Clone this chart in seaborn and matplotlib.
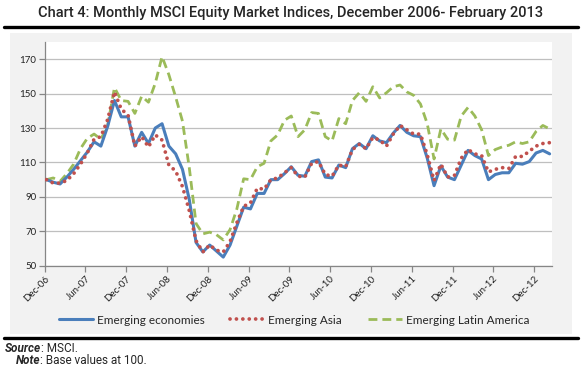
import numpy as np
import pandas as pd
import matplotlib
matplotlib.use('Agg')
import matplotlib.pyplot as plt
from matplotlib.lines import Line2D
from matplotlib.patches import Rectangle
import seaborn as sns

# Monthly index values, Dec-06 = 100
tick_labels = ['Dec-06', 'Jun-07', 'Dec-07', 'Jun-08', 'Dec-08', 'Jun-09', 'Dec-09',
               'Jun-10', 'Dec-10', 'Jun-11', 'Dec-11', 'Jun-12', 'Dec-12']
y_ticks = [50, 70, 90, 110, 130, 150, 170]

emerging_economies = [
    100, 98.5, 97.5, 101.5, 106, 111, 116, 122, 119.5, 131, 146, 136.5, 136.5,
    119.5, 127.5, 121, 130, 132.5, 119.5, 115, 106, 88.5, 63.5, 58, 62,
    58.5, 55, 62, 73, 84, 83, 92, 92, 100, 100, 103.5, 107.5,
    102.5, 102, 110.5, 111.5, 101.5, 101, 108.5, 107, 118, 121, 118, 125.5,
    122.5, 121.5, 127, 131.5, 127.5, 125.5, 125, 112.5, 96.5, 108, 101.5, 100,
    108.5, 117, 114, 112, 100, 103, 104, 104, 109.5, 109, 110.5, 115.5,
    117, 115]
emerging_asia = [
    100, 98, 98, 99.5, 103.5, 109, 115.5, 123.5, 125, 135, 151, 141, 137.5,
    119.5, 125, 119, 126, 123, 108.5, 105, 96, 82, 64.5, 58, 62,
    59, 58, 64, 75, 84.5, 86.5, 95, 94.5, 100, 101, 104, 107,
    102, 101.5, 109.5, 110.5, 103, 102, 108.5, 107.5, 117.5, 120.5, 118, 124.5,
    123, 119.5, 126.5, 131.5, 129, 126.5, 126.5, 114.5, 99.5, 109, 101.5, 102.5,
    112.5, 117.5, 115, 114, 104.5, 106, 107, 106.5, 113.5, 113.5, 116.5, 119.5,
    121, 121.5]
emerging_latam = [
    100, 101, 99, 103.5, 109, 118, 124, 126.5, 123.5, 131.5, 153.5, 146, 145.5,
    138.5, 148.5, 145, 156, 171.5, 161, 148, 134, 107, 74.5, 68.5, 69.5,
    68, 65, 71, 83, 100.5, 100, 107.5, 109.5, 122.5, 126, 134.5, 137,
    125, 129, 139, 138.5, 125, 122.5, 135.5, 132.5, 146, 150.5, 145.5, 154,
    147.5, 150.5, 154, 155, 151, 149, 144, 132.5, 112, 129.5, 123.5, 123,
    137, 142, 137, 129, 114, 117.5, 119, 120, 122, 121, 122, 128,
    131.5, 129.5]

sns.set_theme(style='white')
plt.rcParams['font.family'] = ['Lato', 'DejaVu Sans']

W, H = 581, 377
fig = plt.figure(figsize=(W / 100, H / 100), dpi=100)


def fx(px):
    return px / W


def fy(py):
    return 1 - py / H


# grey chart box and the two heavy rules
fig.patches.append(Rectangle((fx(10), fy(334)), fx(572) - fx(10), fy(33) - fy(334),
                             transform=fig.transFigure, facecolor='#F2F2F2',
                             edgecolor='none', zorder=0))
for yy in (27, 338):
    fig.lines.append(Line2D([fx(4), fx(578)], [fy(yy), fy(yy)], transform=fig.transFigure,
                            color='black', lw=2.4, zorder=1))

ax = fig.add_axes([fx(44.7), fy(265.7), fx(552.3) - fx(44.7), fy(42) - fy(265.7)])
ax.set_zorder(3)
ax.set_facecolor('white')

df = pd.DataFrame({
    'month': np.arange(len(emerging_economies)),
    'Emerging economies': emerging_economies,
    'Emerging Asia': emerging_asia,
    'Emerging Latin America': emerging_latam,
})

sns.lineplot(data=df, x='month', y='Emerging economies', ax=ax, color='#4A7EBB',
             lw=2.2, label='Emerging economies', zorder=3)
sns.lineplot(data=df, x='month', y='Emerging Asia', ax=ax, color='#C0504D',
             lw=2.7, linestyle=(0, (0.01, 1.7)), dash_capstyle='round',
             label='Emerging Asia', zorder=4)
sns.lineplot(data=df, x='month', y='Emerging Latin America', ax=ax, color='#9BBB59',
             lw=2.0, linestyle=(0, (3.2, 1.8)), label='Emerging Latin America', zorder=2)

n = len(emerging_economies)
ax.set_xlim(-0.26, n - 0.61)
ax.set_ylim(50, 180)
ax.set_yticks(y_ticks)
ax.set_xticks(np.arange(0, 6 * len(tick_labels), 6) - 0.26)
ax.set_xticklabels(tick_labels, rotation=45, ha='right', rotation_mode='anchor')
ax.set_xlabel('')
ax.set_ylabel('')
ax.yaxis.grid(True, color='#BFBFBF', lw=0.9)
ax.set_axisbelow(True)
for side in ('top', 'right'):
    ax.spines[side].set_visible(False)
for side in ('left', 'bottom'):
    ax.spines[side].set_color('#868686')
    ax.spines[side].set_linewidth(0.9)
ax.tick_params(axis='both', direction='out', length=4, width=0.9, color='#868686',
               labelsize=7, labelcolor='#222222', bottom=True, left=True, pad=2)

handles, labels = ax.get_legend_handles_labels()
ax.get_legend().remove()
fig.legend(handles, labels, loc='center', bbox_to_anchor=(fx(294), fy(320)), ncol=3,
           frameon=False, fontsize=8.5, handlelength=2.9, columnspacing=2.2,
           handletextpad=0.3)

narrow = ['Roboto', 'DejaVu Sans']
fig.text(0.5, fy(13), 'Chart 4: Monthly MSCI Equity Market Indices, December 2006- February 2013',
         ha='center', va='center', fontsize=10.5, weight='medium', family=narrow)

renderer = fig.canvas.get_renderer()
for x0, y0, head, rest in ((5, 348, 'Source', ': MSCI.'), (16, 361, 'Note', ': Base values at 100.')):
    t = fig.text(fx(x0), fy(y0), head, ha='left', va='center', fontsize=8.5,
                 weight='bold', style='italic', family=narrow)
    bb = t.get_window_extent(renderer=renderer)
    fig.text(bb.x1 / (fig.dpi * fig.get_figwidth()), fy(y0), rest, ha='left', va='center',
             fontsize=8.5, family=narrow)

fig.savefig('out.png', dpi=100)
